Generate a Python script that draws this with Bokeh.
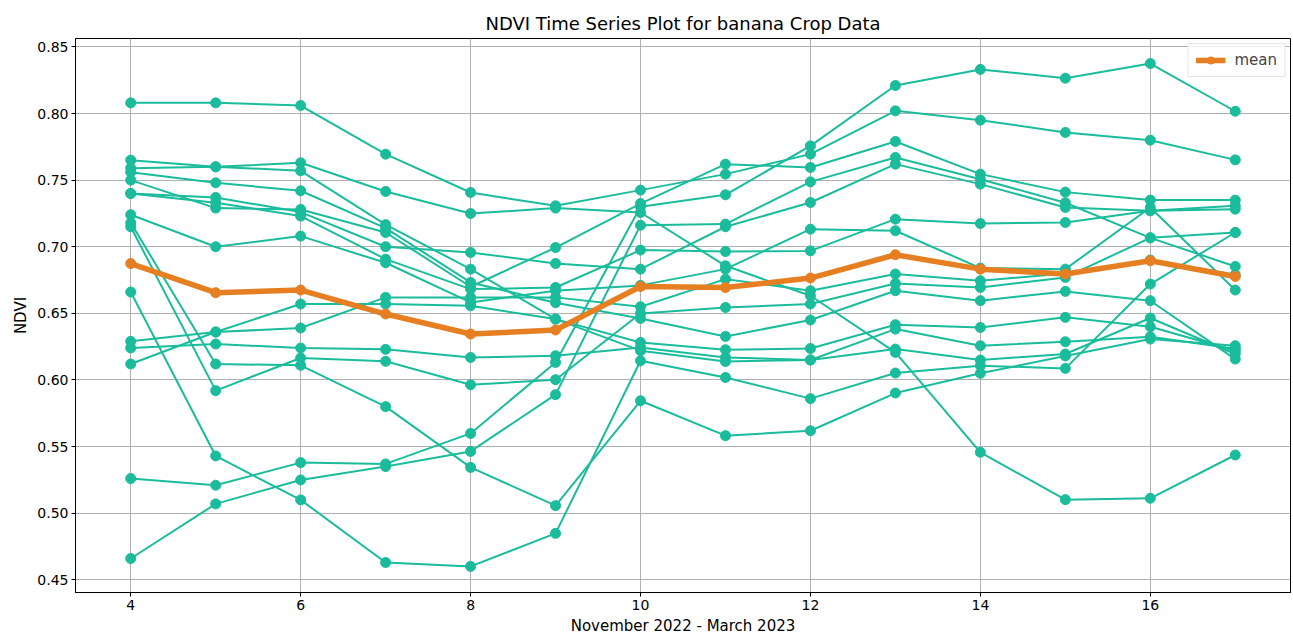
from bokeh.plotting import figure
from bokeh.models import Range1d, FixedTicker, NumeralTickFormatter, Legend, LegendItem
from bokeh.embed import file_html
from bokeh.resources import INLINE

# x positions (time steps)
time_steps = [4, 5, 6, 7, 8, 9, 10, 11, 12, 13, 14, 15, 16, 17]

ndvi_01 = [0.808, 0.808, 0.806, 0.7695, 0.7407, 0.7307, 0.7425, 0.7545, 0.7695, 0.802, 0.795, 0.7858, 0.780, 0.7652]
ndvi_02 = [0.765, 0.760, 0.763, 0.7415, 0.7249, 0.729, 0.7257, 0.6857, 0.6632, 0.6207, 0.5457, 0.5102, 0.5112, 0.5437]
ndvi_03 = [0.759, 0.760, 0.757, 0.7166, 0.6832, 0.6457, 0.622, 0.6139, 0.615, 0.6232, 0.615, 0.6195, 0.6465, 0.6195]
ndvi_04 = [0.756, 0.748, 0.742, 0.714, 0.6732, 0.658, 0.6462, 0.6327, 0.645, 0.667, 0.6595, 0.6665, 0.6595, 0.6157]
ndvi_05 = [0.750, 0.729, 0.728, 0.7107, 0.670, 0.6994, 0.7324, 0.762, 0.7595, 0.779, 0.7545, 0.741, 0.735, 0.735]
ndvi_06 = [0.740, 0.737, 0.726, 0.700, 0.6957, 0.6874, 0.6832, 0.715, 0.7332, 0.762, 0.747, 0.7295, 0.727, 0.7307]
ndvi_07 = [0.740, 0.733, 0.723, 0.6907, 0.6682, 0.6694, 0.6975, 0.6964, 0.6969, 0.7207, 0.7174, 0.7182, 0.727, 0.7282]
ndvi_08 = [0.724, 0.700, 0.708, 0.688, 0.6582, 0.667, 0.671, 0.6832, 0.7132, 0.712, 0.684, 0.6832, 0.7295, 0.6675]
ndvi_09 = [0.718, 0.612, 0.611, 0.580, 0.5344, 0.5057, 0.5844, 0.5582, 0.5619, 0.5902, 0.605, 0.618, 0.6307, 0.6257]
ndvi_10 = [0.715, 0.592, 0.6165, 0.614, 0.5964, 0.6002, 0.6499, 0.6544, 0.657, 0.6724, 0.6695, 0.677, 0.7067, 0.7107]
ndvi_11 = [0.666, 0.543, 0.510, 0.463, 0.4601, 0.4849, 0.6144, 0.6019, 0.586, 0.6052, 0.6107, 0.6087, 0.672, 0.7107]
ndvi_12 = [0.629, 0.636, 0.657, 0.657, 0.6557, 0.6457, 0.6282, 0.6227, 0.6236, 0.6415, 0.6394, 0.647, 0.640, 0.622]
ndvi_13 = [0.624, 0.627, 0.624, 0.623, 0.6169, 0.6182, 0.6244, 0.6169, 0.615, 0.6382, 0.6257, 0.6287, 0.6325, 0.6235]
ndvi_14 = [0.612, 0.636, 0.639, 0.662, 0.662, 0.662, 0.655, 0.6757, 0.667, 0.6795, 0.6745, 0.680, 0.690, 0.679]
ndvi_15 = [0.526, 0.521, 0.538, 0.537, 0.5599, 0.6132, 0.730, 0.739, 0.7757, 0.821, 0.8331, 0.8265, 0.8375, 0.8017]
ndvi_16 = [0.466, 0.507, 0.525, 0.535, 0.5464, 0.589, 0.7162, 0.717, 0.7487, 0.767, 0.7507, 0.733, 0.7067, 0.6852]

mean_ndvi = [0.6874, 0.6655, 0.6675, 0.6495, 0.6345, 0.6375, 0.6702, 0.6694, 0.6765, 0.6940, 0.6832, 0.6795, 0.6895, 0.6777]

x_ticks = [4, 6, 8, 10, 12, 14, 16]
y_ticks = [0.45, 0.50, 0.55, 0.60, 0.65, 0.70, 0.75, 0.80, 0.85]

all_series = [ndvi_01, ndvi_02, ndvi_03, ndvi_04, ndvi_05, ndvi_06, ndvi_07, ndvi_08,
              ndvi_09, ndvi_10, ndvi_11, ndvi_12, ndvi_13, ndvi_14, ndvi_15, ndvi_16]

TEAL = "#1abc9c"
ORANGE = "#e67e22"
FONT = "DejaVu Sans"

p = figure(width=1293, height=639, output_backend="svg", toolbar_location=None,
           x_range=Range1d(3.35, 17.65), y_range=Range1d(0.4405, 0.8563),
           title="NDVI Time Series Plot for banana Crop Data",
           min_border_left=75, min_border_right=3, min_border_top=38, min_border_bottom=47)

p.title.align = "center"
p.title.text_font = FONT
p.title.text_font_size = "18px"
p.title.text_font_style = "normal"
p.title.text_color = "black"
p.title.offset = 0

for s in all_series:
    p.line(time_steps, s, line_color=TEAL, line_width=2)
    p.scatter(time_steps, s, size=10, fill_color=TEAL, line_color=TEAL)

ml = p.line(time_steps, mean_ndvi, line_color=ORANGE, line_width=5.5)
ms = p.scatter(time_steps, mean_ndvi, size=10, fill_color=ORANGE, line_color=ORANGE)

legend = Legend(items=[LegendItem(label="mean", renderers=[ml, ms])], location="top_right")
legend.label_text_font = FONT
legend.label_text_font_size = "15px"
legend.glyph_width = 30
legend.glyph_height = 18
legend.padding = 7
legend.margin = 5
legend.spacing = 0
legend.label_standoff = 9
legend.border_line_color = "#cccccc"
legend.background_fill_alpha = 0.8
p.add_layout(legend, "center")

p.xaxis.ticker = FixedTicker(ticks=x_ticks)
p.yaxis.ticker = FixedTicker(ticks=y_ticks)
p.yaxis.formatter = NumeralTickFormatter(format="0.00")
p.xaxis.axis_label = "November 2022 - March 2023"
p.yaxis.axis_label = "NDVI"

for ax in [p.xaxis[0], p.yaxis[0]]:
    ax.axis_label_text_font = FONT
    ax.axis_label_text_font_size = "15px"
    ax.axis_label_text_font_style = "normal"
    ax.axis_label_text_color = "black"
    ax.major_label_text_font = FONT
    ax.major_label_text_font_size = "14px"
    ax.major_label_text_color = "black"
    ax.axis_line_color = "black"
    ax.major_tick_line_color = "black"
    ax.major_tick_out = 4
    ax.major_tick_in = 0
    ax.minor_tick_line_color = None
    ax.major_label_standoff = 3
    ax.axis_label_standoff = 4

p.grid.grid_line_color = "#b0b0b0"
p.grid.grid_line_width = 1
p.outline_line_color = "black"
p.outline_line_width = 1
p.background_fill_color = "white"
p.border_fill_color = "white"

open("out.html", "w").write(file_html(p, INLINE))
